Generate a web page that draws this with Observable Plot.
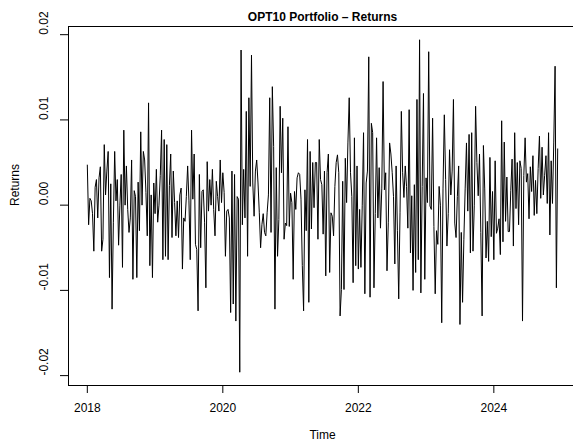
<!DOCTYPE html>
<html><head><meta charset="utf-8">
<script src="https://cdn.jsdelivr.net/npm/d3@7"></script>
<script src="https://cdn.jsdelivr.net/npm/@observablehq/plot@0.6"></script>
<style>
html,body{margin:0;padding:0;background:#fff;overflow:hidden;}
#chart svg{display:block;overflow:hidden;}
</style></head><body><div id="chart"></div>
<script>
const title = "OPT10 Portfolio – Returns";
const xLabel = "Time";
const yLabel = "Returns";
const startYear = 2018;
const frequency = 52;
const xTicks = [2018, 2020, 2022, 2024];
const yTicks = [-0.02, -0.01, 0, 0.01, 0.02];
const returns = [
  0.0047, -0.0023, 0.0008, 0.0005, -0.0010, -0.0054, 0.0021, 0.0030, -0.0015, 0.0032,
  0.0045, -0.0054, -0.0040, 0.0071, 0.0012, 0.0040, 0.0063, -0.0085, 0.0025, -0.0122,
  -0.0020, 0.0063, 0.0005, 0.0030, -0.0047, 0.0000, 0.0036, -0.0073, 0.0088, 0.0000,
  0.0046, -0.0005, -0.0032, -0.0015, 0.0053, -0.0087, 0.0017, 0.0010, -0.0085, 0.0027,
  -0.0030, 0.0086,
  0.0000, 0.0063, 0.0053, 0.0015, -0.0036, 0.0120, -0.0071, 0.0012, -0.0085, 0.0026,
  -0.0010, 0.0042, -0.0020, 0.0000, 0.0035, 0.0088, -0.0064, 0.0077, -0.0060, 0.0071,
  -0.0064, 0.0023, 0.0060, -0.0038, 0.0040, 0.0003, -0.0036, 0.0005, -0.0038, 0.0012,
  0.0020, -0.0075, -0.0015, -0.0019, 0.0010, 0.0046, 0.0005, -0.0064, 0.0088,
  0.0007, 0.0060, -0.0046, -0.0052, -0.0124, 0.0036, -0.0050, 0.0016, 0.0018, -0.0020,
  -0.0097, 0.0051, -0.0007, 0.0030, 0.0000, 0.0042, -0.0005, -0.0036, 0.0028, 0.0010,
  -0.0007, 0.0053, 0.0003, 0.0038, 0.0015, -0.0060, -0.0007, -0.0005, -0.0015, -0.0126,
  0.0040, -0.0116, 0.0036, -0.0136, 0.0010, 0.0007, -0.0196, 0.0182, -0.0023, 0.0042,
  -0.0015, 0.0110, -0.0060, 0.0126, 0.0022, 0.0176, 0.0026, -0.0013, 0.0040, 0.0053,
  0.0026, -0.0009, -0.0050, -0.0023, -0.0010, -0.0032, -0.0036, -0.0009, 0.0012,
  0.0126, -0.0032, 0.0139, 0.0069, -0.0122, 0.0044, -0.0060, -0.0017, 0.0116, 0.0038,
  0.0102, -0.0040, -0.0021, -0.0024, 0.0092, -0.0025, 0.0014, 0.0003, -0.0087, 0.0016,
  -0.0005, 0.0032, 0.0038, 0.0036, 0.0007, -0.0071, -0.0124, 0.0018, -0.0030, 0.0077,
  -0.0114, 0.0063, -0.0028, 0.0050, -0.0003, 0.0050, 0.0050, -0.0040, 0.0077, 0.0030,
  0.0024, -0.0034, 0.0040, -0.0083, 0.0038, 0.0060, -0.0079, -0.0009, -0.0013, -0.0036,
  0.0022, 0.0050, 0.0059, 0.0038, -0.0130, -0.0099, 0.0028, -0.0099,
  0.0055, 0.0003, 0.0073, 0.0126, 0.0038, 0.0010, -0.0091, 0.0079, -0.0071, 0.0046,
  -0.0075, -0.0005, -0.0073, 0.0000, 0.0085, -0.0104, 0.0026, 0.0040, 0.0174, -0.0108,
  0.0096, 0.0085, -0.0097, -0.0010, 0.0079, -0.0015, 0.0044, -0.0027, 0.0020, 0.0145,
  0.0018, 0.0038, -0.0077, -0.0020, 0.0073, 0.0060, 0.0038, 0.0010, -0.0069, 0.0046,
  -0.0030, -0.0110, -0.0009, 0.0110, 0.0038, 0.0009, 0.0046, 0.0022, -0.0027, 0.0112,
  -0.0056, 0.0011, -0.0100, 0.0024, -0.0079, 0.0124, -0.0064, 0.0194, -0.0103,
  0.0022, 0.0131, -0.0087, 0.0032, 0.0003, 0.0180, -0.0001, -0.0005, 0.0102, -0.0025,
  -0.0104, -0.0030, -0.0046, 0.0022, 0.0000, -0.0138, 0.0020, 0.0106, 0.0030, -0.0048,
  -0.0010, 0.0065, 0.0012, 0.0040, 0.0124, -0.0021, -0.0038, 0.0010, 0.0046, -0.0140,
  -0.0032, -0.0114, -0.0040, 0.0020, 0.0073, -0.0007, 0.0083, -0.0056, 0.0085, -0.0054,
  0.0000, 0.0116, 0.0050, 0.0011, 0.0060, -0.0032, -0.0130,
  0.0070, 0.0019, -0.0062, -0.0019, -0.0066, 0.0056, -0.0037, 0.0016, -0.0064, 0.0052,
  -0.0033, -0.0027, -0.0016, -0.0058, 0.0099, -0.0043, 0.0074, -0.0019, 0.0033, -0.0031,
  -0.0031, 0.0017, 0.0054, -0.0048, 0.0085, -0.0004, 0.0050, -0.0023, 0.0052, 0.0043,
  -0.0136, 0.0035, 0.0079, 0.0027, 0.0037, -0.0016, 0.0045, 0.0016, 0.0058, -0.0012,
  0.0029, -0.0010, 0.0043, 0.0081, 0.0008, 0.0068, 0.0012, 0.0035, 0.0058, 0.0002,
  0.0085, -0.0035, 0.0052, 0.0002, 0.0074, 0.0163, -0.0097, 0.0066
];

const data = returns.map((r, i) => ({t: startYear + i / frequency, r}));
function padded([a, b]) { const p = (b - a) * 0.04; return [a - p, b + p]; }
const xDomain = padded(d3.extent(data, d => d.t));
const yDomain = padded(d3.extent(data, d => d.r));
const font = "'Liberation Sans', Arial, Helvetica, sans-serif";

const chart = Plot.plot({
  width: 573,
  height: 448,
  marginLeft: 68,
  marginRight: -3,
  marginTop: 26,
  marginBottom: 63,
  style: {fontFamily: font, fontSize: "12px", background: "white", color: "black", overflow: "hidden"},
  x: {domain: xDomain},
  y: {domain: yDomain},
  marks: [
    Plot.frame({stroke: "black", strokeWidth: 1}),
    Plot.axisX(xTicks, {tickSize: 8, tickPadding: 10, tickFormat: d => String(d), label: null, fontSize: 12}),
    Plot.axisY(yTicks, {tickSize: 8, tickFormat: () => "", label: null}),
    Plot.text(yTicks, {y: d => d, text: d => d.toFixed(2), frameAnchor: "left", dx: -24, rotate: -90, fontSize: 12}),
    Plot.line(data, {x: "t", y: "r", stroke: "black", strokeWidth: 1}),
    Plot.text([title], {frameAnchor: "top", dy: -14, fontWeight: "bold", fontSize: 12}),
    Plot.text([xLabel], {frameAnchor: "bottom", dy: 53, fontSize: 12}),
    Plot.text([yLabel], {frameAnchor: "left", dx: -53, rotate: -90, fontSize: 12})
  ]
});
document.getElementById("chart").appendChild(chart);
</script>
</body></html>
